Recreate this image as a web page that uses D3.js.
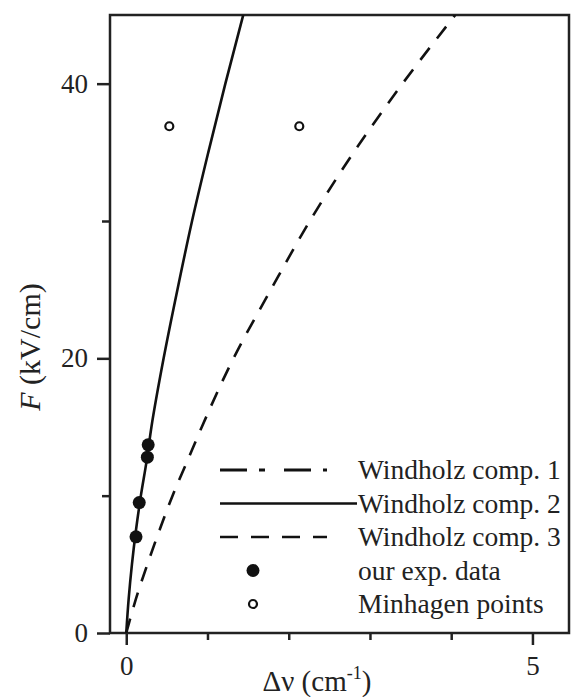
<!DOCTYPE html>
<html>
<head>
<meta charset="utf-8">
<script src="https://cdn.jsdelivr.net/npm/d3@7"></script>
<style>
  body { margin: 0; background: #fff; }
  svg { display: block; font-family: "Liberation Serif", "Times New Roman", serif; }
</style>
</head>
<body>
<svg id="chart" width="571" height="697"></svg>
<script>
// field values along the curves (kV/cm)
const curveF = [0, 2.5, 5, 7.5, 10, 12.5, 15, 20, 25, 30, 35, 40, 45];
// Windholz comp. 2 (solid) shift, cm^-1
const comp2Shift = [0, 0.03, 0.07, 0.12, 0.18, 0.25, 0.31, 0.46, 0.63, 0.81, 1.01, 1.22, 1.44];
// Windholz comp. 3 (dashed) shift, cm^-1
const comp3Shift = [0, 0.12, 0.26, 0.41, 0.57, 0.75, 0.93, 1.32, 1.78, 2.26, 2.80, 3.40, 4.05];

// our experimental data
const expShift = [0.27, 0.26, 0.16, 0.12];
const expF = [13.7, 12.8, 9.5, 7.0];

// Minhagen points
const minShift = [0.53, 2.13];
const minF = [36.9, 36.9];

const xMajor = [0, 5];
const xMinor = [1, 2, 3, 4];
const yMajor = [0, 20, 40];
const yMinor = [10, 30];

const legendLabels = ["Windholz comp. 1", "Windholz comp. 2", "Windholz comp. 3", "our exp. data", "Minhagen points"];

const svg = d3.select("#chart");
const box = { left: 110, right: 569, top: 15, bottom: 633 };
const serif = "Liberation Serif, Times New Roman, serif";

const x = d3.scaleLinear().domain([-0.2, 5.45]).range([box.left, box.right]);
const y = d3.scaleLinear().domain([0, 45]).range([box.bottom, box.top]);

// clip for curves
svg.append("defs").append("clipPath").attr("id", "plot-clip")
    .append("rect")
    .attr("x", box.left).attr("y", box.top)
    .attr("width", box.right - box.left).attr("height", box.bottom - box.top);

// axes (ticks only, frame drawn separately)
function tickAxis(axis, vals, size, showLabels) {
    return axis.tickValues(vals).tickSize(size).tickPadding(8)
        .tickFormat(showLabels ? d3.format("d") : "");
}

const xMaj = svg.append("g")
    .attr("transform", `translate(0,${box.bottom})`)
    .call(tickAxis(d3.axisBottom(x), xMajor, 12, true));
const xMin = svg.append("g")
    .attr("transform", `translate(0,${box.bottom})`)
    .call(tickAxis(d3.axisBottom(x), xMinor, 7, false));
const yMaj = svg.append("g")
    .attr("transform", `translate(${box.left},0)`)
    .call(tickAxis(d3.axisLeft(y), yMajor, 13, true));
const yMin = svg.append("g")
    .attr("transform", `translate(${box.left},0)`)
    .call(tickAxis(d3.axisLeft(y), yMinor, 8, false));

[xMaj, xMin, yMaj, yMin].forEach(g => {
    g.attr("font-family", serif).attr("font-size", 27);
    g.select(".domain").remove();
    g.selectAll("line").attr("stroke", "#222").attr("stroke-width", 2.5);
    g.selectAll("text").attr("fill", "#222");
});
xMaj.selectAll("text").attr("dy", "0.8em");
yMaj.selectAll("text").attr("dx", "-1");

// frame
svg.append("rect")
    .attr("x", box.left).attr("y", box.top)
    .attr("width", box.right - box.left).attr("height", box.bottom - box.top)
    .attr("fill", "none").attr("stroke", "#222").attr("stroke-width", 2.5);

// axis titles
const xTitle = svg.append("text")
    .attr("x", 317).attr("y", 691)
    .attr("text-anchor", "middle")
    .attr("font-size", 29).attr("fill", "#222");
xTitle.append("tspan").text("\u0394\u03bd (cm");
xTitle.append("tspan").attr("dy", -12).attr("font-size", 18).text("-1");
xTitle.append("tspan").attr("dy", 12).text(")");

const yTitle = svg.append("text")
    .attr("transform", "translate(40,347) rotate(-90)")
    .attr("text-anchor", "middle")
    .attr("font-size", 30).attr("fill", "#222");
yTitle.append("tspan").attr("font-style", "italic").text("F");
yTitle.append("tspan").text(" (kV/cm)");

// curves
const line = d3.line().curve(d3.curveMonotoneY);
const plot = svg.append("g").attr("clip-path", "url(#plot-clip)");

plot.append("path")
    .attr("d", line(curveF.map((f, i) => [x(comp2Shift[i]), y(f)])))
    .attr("fill", "none").attr("stroke", "#111").attr("stroke-width", 2.6);

plot.append("path")
    .attr("d", line(curveF.map((f, i) => [x(comp3Shift[i]), y(f)])))
    .attr("fill", "none").attr("stroke", "#111").attr("stroke-width", 2.6)
    .attr("stroke-dasharray", "15,12");

// experimental points
svg.append("g").selectAll("circle")
    .data(expShift)
    .join("circle")
    .attr("cx", d => x(d))
    .attr("cy", (d, i) => y(expF[i]))
    .attr("r", 6.5)
    .attr("fill", "#111");

// Minhagen points
svg.append("g").selectAll("circle")
    .data(minShift)
    .join("circle")
    .attr("cx", d => x(d))
    .attr("cy", (d, i) => y(minF[i]))
    .attr("r", 4)
    .attr("fill", "none").attr("stroke", "#111").attr("stroke-width", 2.2);

// legend
const legendX0 = 220, legendX1 = 327, markerX = 253, textX = 358;
const rowY = i => 470 + i * 33.5;
const legend = svg.append("g");

legend.append("line")
    .attr("x1", legendX0).attr("x2", legendX1)
    .attr("y1", rowY(0)).attr("y2", rowY(0))
    .attr("stroke", "#111").attr("stroke-width", 3)
    .attr("stroke-dasharray", "27,12,6,19");
legend.append("line")
    .attr("x1", legendX0).attr("x2", 357)
    .attr("y1", rowY(1)).attr("y2", rowY(1))
    .attr("stroke", "#111").attr("stroke-width", 2.6);
legend.append("line")
    .attr("x1", legendX0).attr("x2", legendX1)
    .attr("y1", rowY(2)).attr("y2", rowY(2))
    .attr("stroke", "#111").attr("stroke-width", 2.6)
    .attr("stroke-dasharray", "18,13");
legend.append("circle")
    .attr("cx", markerX).attr("cy", rowY(3)).attr("r", 6.5).attr("fill", "#111");
legend.append("circle")
    .attr("cx", markerX).attr("cy", rowY(4)).attr("r", 4)
    .attr("fill", "none").attr("stroke", "#111").attr("stroke-width", 2.2);

legend.selectAll("text")
    .data(legendLabels)
    .join("text")
    .attr("x", textX)
    .attr("y", (d, i) => rowY(i))
    .attr("dy", "0.33em")
    .attr("font-size", 27.5)
    .attr("fill", "#222")
    .text(d => d);
</script>
</body>
</html>
